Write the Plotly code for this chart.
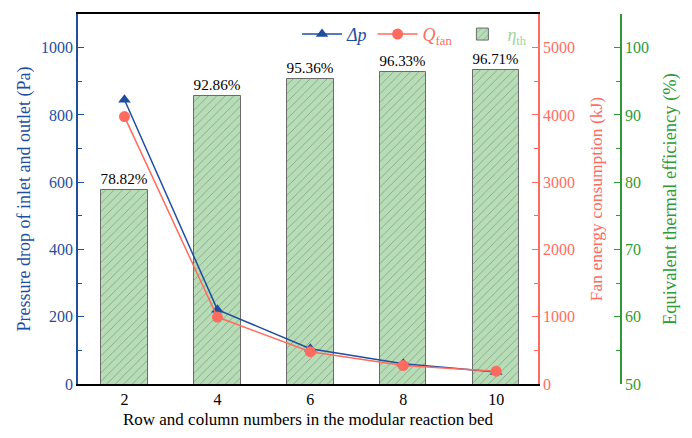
import plotly.graph_objects as go

# Row/column number of the modular reaction bed
rows = [2, 4, 6, 8, 10]
# Pressure drop between inlet and outlet (Pa)
pressure_drop = [845, 221, 105, 60, 36]
# Fan energy consumption (kJ)
fan_energy = [3975, 995, 480, 275, 190]
# Equivalent thermal efficiency (%)
efficiency = [78.82, 92.86, 95.36, 96.33, 96.71]

BLUE = "#1f4e9f"
RED = "#ff6b5e"
GREEN = "#2f9a34"
LIGHT_GREEN = "#9fd49f"
FONT = "Liberation Serif, Times New Roman, serif"

fig = go.Figure()

fig.add_trace(go.Bar(
    x=rows, y=efficiency, yaxis="y", width=1.0,
    name=f'<span style="color:{LIGHT_GREEN}"><i>η</i><sub>th</sub></span>',
    marker=dict(color="#b7ddb7", line=dict(color="#6b6b6b", width=1),
                pattern=dict(shape="/", fgcolor="#4a4a4a", bgcolor="#b7ddb7",
                             size=6, solidity=0.12)),
    texttemplate="%{y:.2f}%", textposition="outside",
    textfont=dict(family=FONT, size=16, color="black"),
    cliponaxis=False, legendrank=3,
))

fig.add_trace(go.Scatter(
    x=rows, y=pressure_drop, yaxis="y2", mode="lines+markers",
    name=f'<span style="color:{BLUE}"><i>Δp</i></span>',
    line=dict(color=BLUE, width=1.5),
    marker=dict(symbol="triangle-up", size=11, color=BLUE),
    legendrank=1,
))

fig.add_trace(go.Scatter(
    x=rows, y=fan_energy, yaxis="y3", mode="lines+markers",
    name=f'<span style="color:{RED}"><i>Q</i><sub>fan</sub></span>',
    line=dict(color=RED, width=1.5),
    marker=dict(symbol="circle", size=11, color=RED),
    legendrank=2,
))

x_end = (538 - 78) / (642 - 78)
green_pos = (621 - 78) / (642 - 78)

fig.update_layout(
    width=692, height=438,
    margin=dict(l=78, r=50, t=13, b=51),
    plot_bgcolor="white", paper_bgcolor="white",
    font=dict(family=FONT, size=15),
    bargap=0,
    showlegend=True,
    legend=dict(orientation="h", x=0.805, xanchor="right", y=0.995, yanchor="top",
                bgcolor="rgba(0,0,0,0)", font=dict(family=FONT, size=18),
                traceorder="normal", itemwidth=40),
    xaxis=dict(
        domain=[0, x_end], range=[1.0, 10.9],
        tickvals=rows, ticktext=[str(r) for r in rows],
        showline=True, linecolor="black", linewidth=2, mirror=True,
        ticks="", showgrid=False, zeroline=False,
        tickfont=dict(family=FONT, size=16, color="black"),
        title=dict(text="Row and column numbers in the modular reaction bed",
                   font=dict(family=FONT, size=17, color="black"), standoff=6),
    ),
    yaxis=dict(
        anchor="free", position=green_pos, side="right",
        range=[50, 105], tickvals=[50, 60, 70, 80, 90, 100],
        showline=True, linecolor=GREEN, linewidth=1.5,
        ticks="inside", ticklen=6, tickcolor=GREEN,
        minor=dict(ticks="inside", ticklen=4, tickcolor=GREEN, dtick=5),
        showgrid=False, zeroline=False,
        tickfont=dict(family=FONT, size=16, color=GREEN),
        title=dict(text="Equivalent thermal efficiency (%)",
                   font=dict(family=FONT, size=18.5, color=GREEN), standoff=14),
    ),
    yaxis2=dict(
        overlaying="y", anchor="x", side="left",
        range=[0, 1100], tickvals=[0, 200, 400, 600, 800, 1000],
        showline=True, linecolor=BLUE, linewidth=1.5,
        ticks="inside", ticklen=6, tickcolor=BLUE,
        minor=dict(ticks="inside", ticklen=4, tickcolor=BLUE, dtick=100),
        showgrid=False, zeroline=False,
        tickfont=dict(family=FONT, size=16, color=BLUE),
        title=dict(text="Pressure drop of inlet and outlet (Pa)",
                   font=dict(family=FONT, size=18, color=BLUE), standoff=6),
    ),
    yaxis3=dict(
        overlaying="y", anchor="x", side="right",
        range=[0, 5500], tickvals=[0, 1000, 2000, 3000, 4000, 5000],
        showline=True, linecolor=RED, linewidth=1.5,
        ticks="inside", ticklen=6, tickcolor=RED,
        minor=dict(ticks="inside", ticklen=4, tickcolor=RED, dtick=500),
        showgrid=False, zeroline=False,
        tickfont=dict(family=FONT, size=16, color=RED),
        title=dict(text="Fan energy consumption (kJ)",
                   font=dict(family=FONT, size=17.5, color=RED), standoff=16),
    ),
)

fig.write_html("out.html")
